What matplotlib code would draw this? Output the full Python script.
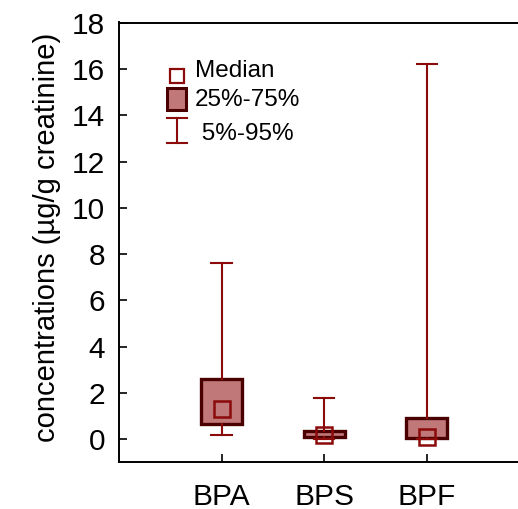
import matplotlib
matplotlib.use("Agg")
import matplotlib.pyplot as plt
from matplotlib.patches import Rectangle
from matplotlib.lines import Line2D

plt.rcParams['font.family'] = ['Liberation Sans', 'DejaVu Sans']

categories = ["BPA", "BPS", "BPF"]
p5 = [0.17, 0.02, 0.0]
q25 = [0.66, 0.10, 0.04]
median = [1.32, 0.19, 0.09]
q75 = [2.60, 0.37, 0.94]
p95 = [7.62, 1.80, 16.23]
yticks = [0, 2, 4, 6, 8, 10, 12, 14, 16, 18]

fill_c = "#c07878"
edge_c = "#4a0000"
line_c = "#8b0a0a"

W, H = 518, 509
fig = plt.figure(figsize=(W / 100, H / 100), dpi=100)
left, bottom = 119 / W, 1 - 461.7 / H
top = 1 - 22.5 / H
ax = fig.add_axes([left, bottom, 1 - left, top - bottom])

pos = list(range(1, len(categories) + 1))
stats = []
for i, c in enumerate(categories):
    stats.append(dict(label=c, whislo=p5[i], q1=q25[i], med=median[i],
                      q3=q75[i], whishi=p95[i]))
ax.bxp(stats, positions=pos, widths=0.4, patch_artist=True, showfliers=False,
       boxprops=dict(facecolor=fill_c, edgecolor=edge_c, linewidth=2.4),
       whiskerprops=dict(color=line_c, linewidth=1.5),
       capprops=dict(color=line_c, linewidth=1.5),
       capwidths=0.2,
       medianprops=dict(visible=False))
ax.plot(pos, median, linestyle='none', marker='s', markersize=11.5,
        markerfacecolor='none', markeredgecolor=line_c, markeredgewidth=1.8,
        zorder=5)

ax.set_xlim(0, (W - 119) / 102.6)
ax.set_ylim(-0.97, 18.02)
ax.set_xticks(pos)
ax.set_xticklabels(categories)
ax.set_yticks(yticks)
ax.tick_params(direction='in', length=6, width=1.2, labelsize=21.5)
ax.tick_params(axis='x', pad=15)
ax.tick_params(axis='y', pad=10)
for s in ['left', 'top', 'bottom']:
    ax.spines[s].set_linewidth(1.4)
ax.spines['right'].set_visible(False)
ax.set_ylabel("concentrations (µg/g creatinine)", fontsize=21, labelpad=8)
ax.yaxis.label.set_y(0.511)

# legend drawn manually in figure pixel coordinates
def fx(px):
    return px / W

def fy(py):
    return 1 - py / H

tf = fig.transFigure
fig.add_artist(Line2D([fx(176.5)], [fy(76)], transform=tf, linestyle='none',
                      marker='s', markersize=9.5, markerfacecolor='none',
                      markeredgecolor=line_c, markeredgewidth=1.6))
fig.add_artist(Rectangle((fx(167), fy(110)), fx(185.5) - fx(167), fy(88.5) - fy(110),
                         transform=tf, facecolor=fill_c, edgecolor=edge_c,
                         linewidth=2.2))
fig.add_artist(Line2D([fx(176.7), fx(176.7)], [fy(118.5), fy(142.5)], transform=tf,
                      color=line_c, linewidth=1.5))
for yy in (118.5, 142.5):
    fig.add_artist(Line2D([fx(167), fx(186.5)], [fy(yy), fy(yy)], transform=tf,
                          color=line_c, linewidth=1.5))
fig.text(fx(195), fy(71), "Median", fontsize=17.5, va='center', ha='left')
fig.text(fx(195), fy(100.5), "25%-75%", fontsize=17.5, va='center', ha='left')
fig.text(fx(195), fy(134), " 5%-95%", fontsize=17.5, va='center', ha='left')

fig.savefig("out.png", dpi=100)
